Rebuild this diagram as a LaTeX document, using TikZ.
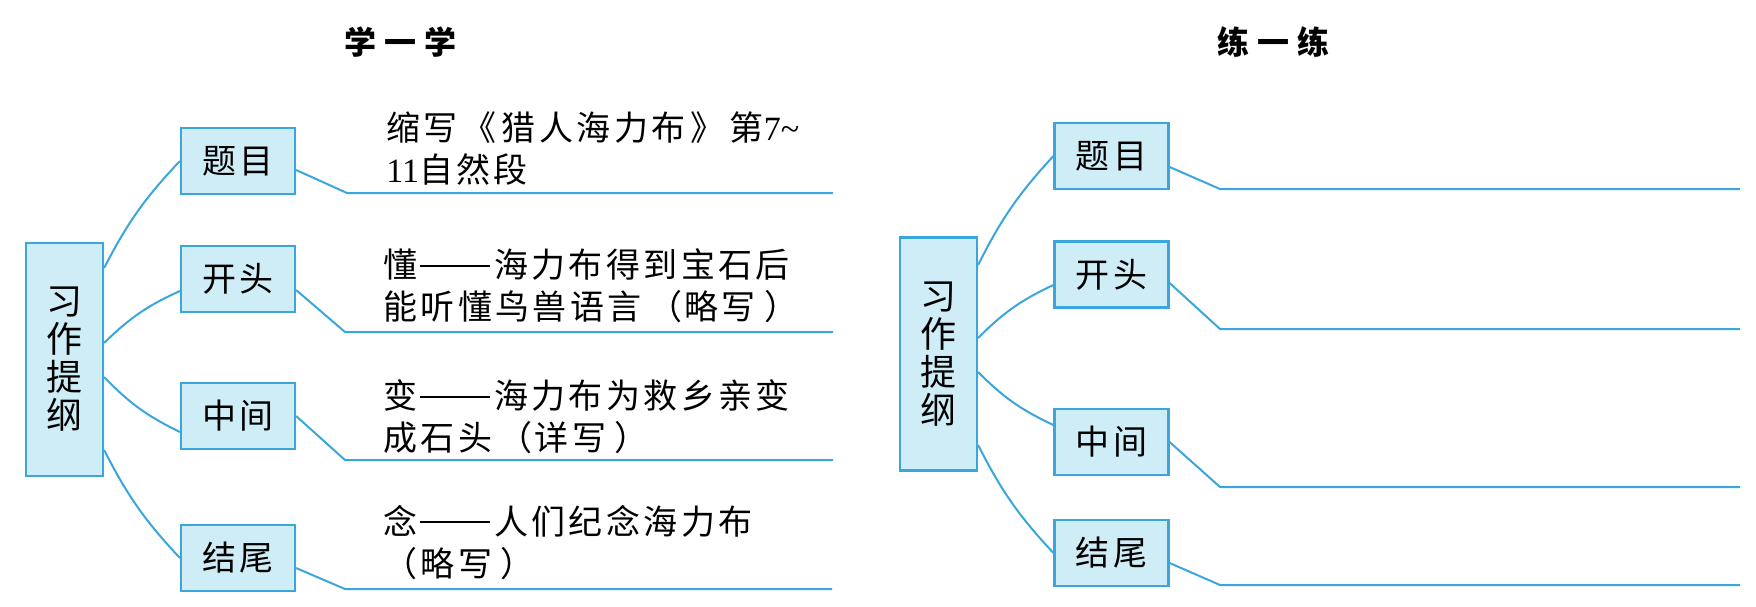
\documentclass[tikz,border=0pt]{standalone}
\usepackage{fontspec}
\newfontfamily\cjk{Noto Sans CJK SC}
\newfontfamily\cjkls[LetterSpace=10]{Noto Sans CJK SC}
\newfontfamily\cjkt[LetterSpace=25]{Noto Sans CJK SC}
\newfontfamily\latn{Liberation Serif}
\newcommand\longdash{\kern1.5pt\rule[5.6pt]{35pt}{1pt}\kern1.8pt}
\newcommand\lpar{\kern0.2em（\kern0.05em}
\newcommand\rpar{\kern0.25em）}
\definecolor{bx}{RGB}{58,166,220}
\definecolor{bf}{RGB}{206,237,247}
\begin{document}
\begin{tikzpicture}[x=0.5pt,y=-0.5pt,
  mainbox/.style={draw=bx,fill=bf,line width=1.1pt,inner sep=0pt,minimum width=38.5pt,minimum height=116.5pt,align=center,font=\cjk\fontsize{18}{19}\selectfont},
  subbox/.style={draw=bx,fill=bf,line width=1.1pt,inner sep=0pt,minimum width=57pt,minimum height=33pt,font=\cjkls\fontsize{17}{17}\selectfont},
  link/.style={draw=bx,line width=1pt},
  desc/.style={anchor=west,align=left,inner sep=0pt,font=\cjkls\fontsize{17}{21}\selectfont},
  heading/.style={inner sep=0pt,font=\cjkt\bfseries\fontsize{16}{16}\selectfont}]
\useasboundingbox (0,0) rectangle (1756,606);

% headings
\node[heading] (h1) at (400,42) {学一学};
\node[heading] (h2) at (1273,42) {练一练};

% ---------- left panel ----------
\node[mainbox] (lm) at (64.5,359.5) {习\\作\\提\\纲};
\node[subbox] (lt) at (238,161) {题目};
\node[subbox] (lk) at (238,279) {开头};
\node[subbox] (lz) at (238,416) {中间};
\node[subbox] (lj) at (238,558) {结尾};

\draw[link] ([yshift=45.75pt]lm.east) to[bend left=8] (lt.west);
\draw[link] ([yshift=8.25pt]lm.east) to[bend left=10] ([yshift=-6pt]lk.west);
\draw[link] ([yshift=-8.75pt]lm.east) to[bend right=10] ([yshift=-8pt]lz.west);
\draw[link] ([yshift=-45.25pt]lm.east) to[bend right=8] (lj.west);

\coordinate (lte) at (347,193); \coordinate (ltf) at (833,193);
\coordinate (lke) at (345,332); \coordinate (lkf) at (833,332);
\coordinate (lze) at (345,460); \coordinate (lzf) at (833,460);
\coordinate (lje) at (345,589); \coordinate (ljf) at (832,589);
\draw[link] ([yshift=-4.5pt]lt.east) -- (lte) -- (ltf);
\draw[link] ([yshift=-5.5pt]lk.east) -- (lke) -- (lkf);
\draw[link] (lz.east) -- (lze) -- (lzf);
\draw[link] ([yshift=-5pt]lj.east) -- (lje) -- (ljf);

\node[desc] (dt) at (386,148.5) {缩写\kern0.15em《\kern0.15em 猎人海力布\kern0.15em》\kern0.15em 第{\latn 7\textasciitilde}\\{\latn 11}自然段};
\node[desc] (dk) at (383,286) {懂\longdash 海力布得到宝石后\\能听懂鸟兽语言\lpar 略写\rpar};
\node[desc] (dz) at (383,417) {变\longdash 海力布为救乡亲变\\成石头\lpar 详写\rpar};
\node[desc] (dj) at (383,542.5) {念\longdash 人们纪念海力布\\（略写\rpar};

% ---------- right panel ----------
\node[mainbox] (rm) at (938.5,354) {习\\作\\提\\纲};
\node[subbox] (rt) at (1111.5,156) {题目};
\node[subbox] (rk) at (1111.5,274.5) {开头};
\node[subbox] (rz) at (1111.5,442) {中间};
\node[subbox] (rj) at (1111.5,553) {结尾};

\draw[link] ([yshift=44.5pt]rm.east) to[bend left=8] (rt.west);
\draw[link] ([yshift=8pt]rm.east) to[bend left=10] ([yshift=-5.25pt]rk.west);
\draw[link] ([yshift=-9pt]rm.east) to[bend right=10] ([yshift=8.5pt]rz.west);
\draw[link] ([yshift=-45.5pt]rm.east) to[bend right=8] (rj.west);

\coordinate (rte) at (1220,189); \coordinate (rtf) at (1740,189);
\coordinate (rke) at (1220,329); \coordinate (rkf) at (1740,329);
\coordinate (rze) at (1220,487); \coordinate (rzf) at (1740,487);
\coordinate (rje) at (1220,585); \coordinate (rjf) at (1740,585);
\draw[link] ([yshift=-5.5pt]rt.east) -- (rte) -- (rtf);
\draw[link] ([yshift=-4.25pt]rk.east) -- (rke) -- (rkf);
\draw[link] (rz.east) -- (rze) -- (rzf);
\draw[link] ([yshift=-5pt]rj.east) -- (rje) -- (rjf);
\end{tikzpicture}
\end{document}
